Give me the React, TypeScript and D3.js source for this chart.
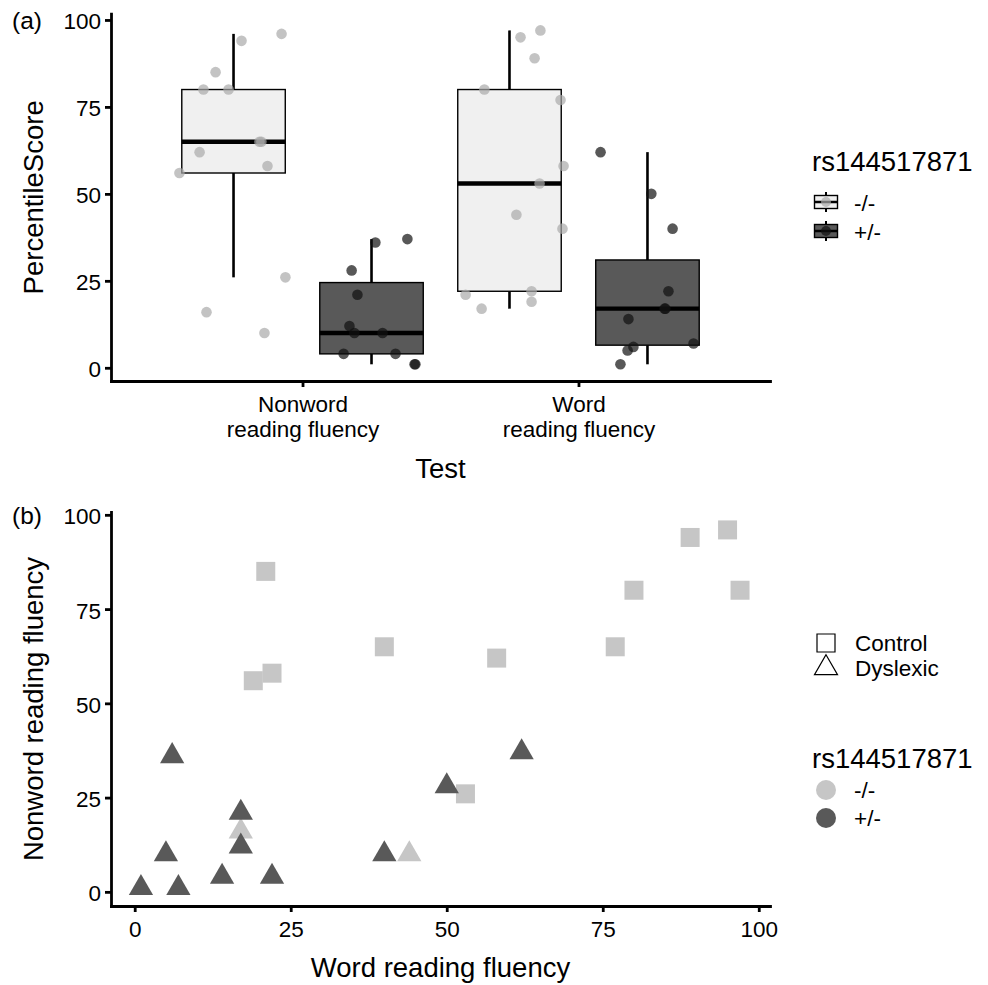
import React, { useEffect, useRef } from "react";
import * as d3 from "d3";

// categories
const tests = ["Nonword\nreading fluency", "Word\nreading fluency"];
const genotypes = ["-/-", "+/-"];
const groups = ["Control", "Dyslexic"];

// one entry per subject
const genotype = [
  "-/-", "-/-", "-/-", "-/-", "-/-", "-/-", "-/-", "-/-", "-/-", "-/-", "-/-", "-/-", "-/-",
  "+/-", "+/-", "+/-", "+/-", "+/-", "+/-", "+/-", "+/-", "+/-", "+/-", "+/-",
];
const group = [
  "Control", "Control", "Control", "Control", "Control", "Control", "Control", "Control",
  "Control", "Control", "Control", "Dyslexic", "Dyslexic",
  "Dyslexic", "Dyslexic", "Dyslexic", "Dyslexic", "Dyslexic", "Dyslexic", "Dyslexic",
  "Dyslexic", "Dyslexic", "Dyslexic", "Dyslexic",
];
const nonword = [85, 65, 56, 58, 94, 96, 80, 80, 62, 65, 26, 16, 10, 36, 21, 12, 10, 1, 1, 4, 4, 10, 37, 28];
const word = [21, 40, 19, 22, 89, 95, 80, 97, 58, 77, 53, 17, 44, 6, 17, 17, 5, 1, 7, 14, 22, 40, 62, 50];

// horizontal jitter of the points in panel (a), in category steps
const jitterNonword = [
  -0.065, 0.101, -0.196, 0.123, 0.029, 0.174, -0.109, -0.018, -0.123, 0.094, 0.188, -0.098, 0.112,
  0.014, -0.051, -0.08, -0.062, 0.156, 0.159, -0.101, 0.087, 0.04, 0.13, -0.072,
];
const jitterWord = [
  -0.159, 0.192, 0.08, 0.08, 0.091, 0.04, -0.091, 0.112, 0.196, 0.185, 0.109, -0.101, 0.025,
  -0.051, 0.065, 0.062, -0.072, -0.098, 0.167, -0.069, 0.076, 0.091, -0.17, 0.014,
];

const yTicks = [0, 25, 50, 75, 100];
const xTicks = [0, 25, 50, 75, 100];

const FONT = "'Liberation Sans', Arial, Helvetica, sans-serif";

const expand = (vals: number[]) => {
  const [lo, hi] = d3.extent(vals) as [number, number];
  const pad = (hi - lo) * 0.05;
  return [lo - pad, hi + pad];
};

const styleAxis = (g: any) => {
  g.select(".domain").attr("stroke", "black").attr("stroke-width", 2.8).attr("stroke-linecap", "square");
  g.selectAll(".tick line").attr("stroke", "black").attr("stroke-width", 2.8);
  g.selectAll(".tick text").attr("fill", "black").style("font-size", "22.5px").style("font-family", FONT);
};

const App = () => {
  const svgRef = useRef<SVGSVGElement>(null);

  useEffect(() => {
    const svg = d3.select(svgRef.current);
    svg.selectAll("*").remove();
    svg.style("font-family", FONT);

    const left = 111;
    const right = 770;

    const boxFill = d3.scaleOrdinal<string, string>().domain(genotypes).range(["#f0f0f0", "#595959"]);
    const jitterColor = d3.scaleOrdinal<string, string>().domain(genotypes).range(["#a9a9a9", "#111111"]);
    const pointColor = d3.scaleOrdinal<string, string>().domain(genotypes).range(["#c6c6c6", "#595959"]);

    // ---------------- panel (a): boxplots ----------------
    const yA = d3.scaleLinear().domain(expand(nonword.concat(word))).range([381, 13.7]);
    const xA = d3.scalePoint<string>().domain(tests).range([left, right]).padding(0.694);
    const step = xA.step();
    const dodge = d3.scaleBand<string>().domain(genotypes).range([-step / 2, step / 2]);
    const boxW = dodge.bandwidth() * 0.75;

    const scores = [nonword, word];
    const jitters = [jitterNonword, jitterWord];

    const gA = svg.append("g");

    tests.forEach((t, ti) => {
      genotypes.forEach((gt) => {
        const vals = scores[ti].filter((_, i) => genotype[i] === gt).sort(d3.ascending);
        const q1 = d3.quantile(vals, 0.25)!;
        const med = d3.quantile(vals, 0.5)!;
        const q3 = d3.quantile(vals, 0.75)!;
        const iqr = q3 - q1;
        const wLo = d3.min(vals.filter((v) => v >= q1 - 1.5 * iqr))!;
        const wHi = d3.max(vals.filter((v) => v <= q3 + 1.5 * iqr))!;
        const cx = xA(t)! + dodge(gt)! + dodge.bandwidth() / 2;

        gA.append("line").attr("x1", cx).attr("x2", cx).attr("y1", yA(q3)).attr("y2", yA(wHi))
          .attr("stroke", "black").attr("stroke-width", 2.6);
        gA.append("line").attr("x1", cx).attr("x2", cx).attr("y1", yA(q1)).attr("y2", yA(wLo))
          .attr("stroke", "black").attr("stroke-width", 2.6);
        gA.append("rect").attr("x", cx - boxW / 2).attr("y", yA(q3)).attr("width", boxW)
          .attr("height", yA(q1) - yA(q3)).attr("fill", boxFill(gt)).attr("stroke", "black").attr("stroke-width", 1.4);
        gA.append("line").attr("x1", cx - boxW / 2).attr("x2", cx + boxW / 2).attr("y1", yA(med)).attr("y2", yA(med))
          .attr("stroke", "black").attr("stroke-width", 4.4);
      });
    });

    tests.forEach((t, ti) => {
      scores[ti].forEach((v, i) => {
        const gt = genotype[i];
        const cx = xA(t)! + dodge(gt)! + dodge.bandwidth() / 2 + jitters[ti][i] * step;
        gA.append("circle").attr("cx", cx).attr("cy", yA(v)).attr("r", 5.3)
          .attr("fill", jitterColor(gt)).attr("fill-opacity", 0.7);
      });
    });

    const axAy = svg.append("g").attr("transform", `translate(${left},0)`)
      .call(d3.axisLeft(yA).tickValues(yTicks).tickSize(6).tickPadding(4).tickSizeOuter(0));
    styleAxis(axAy);
    axAy.selectAll(".tick text").attr("dy", "0.4em");

    const axAx = svg.append("g").attr("transform", `translate(0,381)`)
      .call(d3.axisBottom(xA).tickSize(6).tickSizeOuter(0));
    styleAxis(axAx);
    axAx.selectAll(".tick text").attr("dy", null).attr("y", null).text(null).each(function (d: any) {
      const el = d3.select(this);
      String(d).split("\n").forEach((line, k) => {
        el.append("tspan").attr("x", 0).attr("y", 31 + 25 * k).text(line);
      });
    });

    svg.append("text").attr("x", (left + right) / 2).attr("y", 478).attr("text-anchor", "middle")
      .style("font-size", "27.5px").text("Test");
    svg.append("text").attr("transform", `translate(43,${(381 + 13.7) / 2}) rotate(-90)`)
      .attr("text-anchor", "middle").style("font-size", "27.5px").text("PercentileScore");
    svg.append("text").attr("x", 12).attr("y", 29).style("font-size", "24.5px").text("(a)");

    // legend (a)
    svg.append("text").attr("x", 812).attr("y", 171).style("font-size", "27.5px").text("rs144517871");
    genotypes.forEach((gt, k) => {
      const cy = 202 + 29 * k;
      const cx = 826;
      const lg = svg.append("g");
      lg.append("line").attr("x1", cx).attr("x2", cx).attr("y1", cy - 10).attr("y2", cy + 10)
        .attr("stroke", "black").attr("stroke-width", 2);
      lg.append("rect").attr("x", cx - 11.5).attr("y", cy - 6.5).attr("width", 23).attr("height", 13)
        .attr("fill", boxFill(gt)).attr("stroke", "black").attr("stroke-width", 1.4);
      lg.append("line").attr("x1", cx - 11.5).attr("x2", cx + 11.5).attr("y1", cy).attr("y2", cy)
        .attr("stroke", "black").attr("stroke-width", 2.5);
      lg.append("circle").attr("cx", cx).attr("cy", cy).attr("r", 5)
        .attr("fill", jitterColor(gt)).attr("fill-opacity", 0.7);
      svg.append("text").attr("x", 854).attr("y", cy + 9).style("font-size", "22.5px").text(gt);
    });

    // ---------------- panel (b): scatter ----------------
    const xB = d3.scaleLinear().domain(expand(word)).range([left, right]);
    const yB = d3.scaleLinear().domain(expand(nonword)).range([906, 512]);
    const shape = d3.scaleOrdinal<string, d3.SymbolType>().domain(groups).range([d3.symbolSquare, d3.symbolTriangle]);
    const shapeSize = d3.scaleOrdinal<string, number>().domain(groups).range([361, 255]);

    const gB = svg.append("g");
    word.forEach((w, i) => {
      gB.append("path")
        .attr("d", d3.symbol().type(shape(group[i])).size(shapeSize(group[i]))()!)
        .attr("transform", `translate(${xB(w)},${yB(nonword[i])})`)
        .attr("fill", pointColor(genotype[i]));
    });

    const axBy = svg.append("g").attr("transform", `translate(${left},0)`)
      .call(d3.axisLeft(yB).tickValues(yTicks).tickSize(6).tickPadding(4).tickSizeOuter(0));
    styleAxis(axBy);
    axBy.selectAll(".tick text").attr("dy", "0.4em");

    const axBx = svg.append("g").attr("transform", `translate(0,906)`)
      .call(d3.axisBottom(xB).tickValues(xTicks).tickSize(6).tickSizeOuter(0));
    styleAxis(axBx);
    axBx.selectAll(".tick text").attr("dy", null).attr("y", 31);

    svg.append("text").attr("x", (left + right) / 2).attr("y", 977).attr("text-anchor", "middle")
      .style("font-size", "27.5px").text("Word reading fluency");
    svg.append("text").attr("transform", `translate(43,${(906 + 512) / 2}) rotate(-90)`)
      .attr("text-anchor", "middle").style("font-size", "27.5px").text("Nonword reading fluency");
    svg.append("text").attr("x", 12).attr("y", 524).style("font-size", "24.5px").text("(b)");

    // legend (b): shapes
    groups.forEach((gr, k) => {
      const cy = 643 + 25 * k;
      svg.append("path")
        .attr("d", d3.symbol().type(shape(gr)).size(gr === "Control" ? 324 : 230)()!)
        .attr("transform", `translate(826,${cy})`)
        .attr("fill", "none").attr("stroke", "black").attr("stroke-width", 1.2);
      svg.append("text").attr("x", 855).attr("y", cy + 8).style("font-size", "22.5px").text(gr);
    });
    // legend (b): colours
    svg.append("text").attr("x", 812).attr("y", 768).style("font-size", "27.5px").text("rs144517871");
    genotypes.forEach((gt, k) => {
      const cy = 790 + 28 * k;
      svg.append("circle").attr("cx", 826).attr("cy", cy).attr("r", 10).attr("fill", pointColor(gt));
      svg.append("text").attr("x", 854).attr("y", cy + 8).style("font-size", "22.5px").text(gt);
    });
  }, []);

  return (
    <svg
      ref={svgRef}
      width={988}
      height={985}
      style={{ position: "absolute", left: 0, top: 0, background: "white" }}
    />
  );
};

export default App;
